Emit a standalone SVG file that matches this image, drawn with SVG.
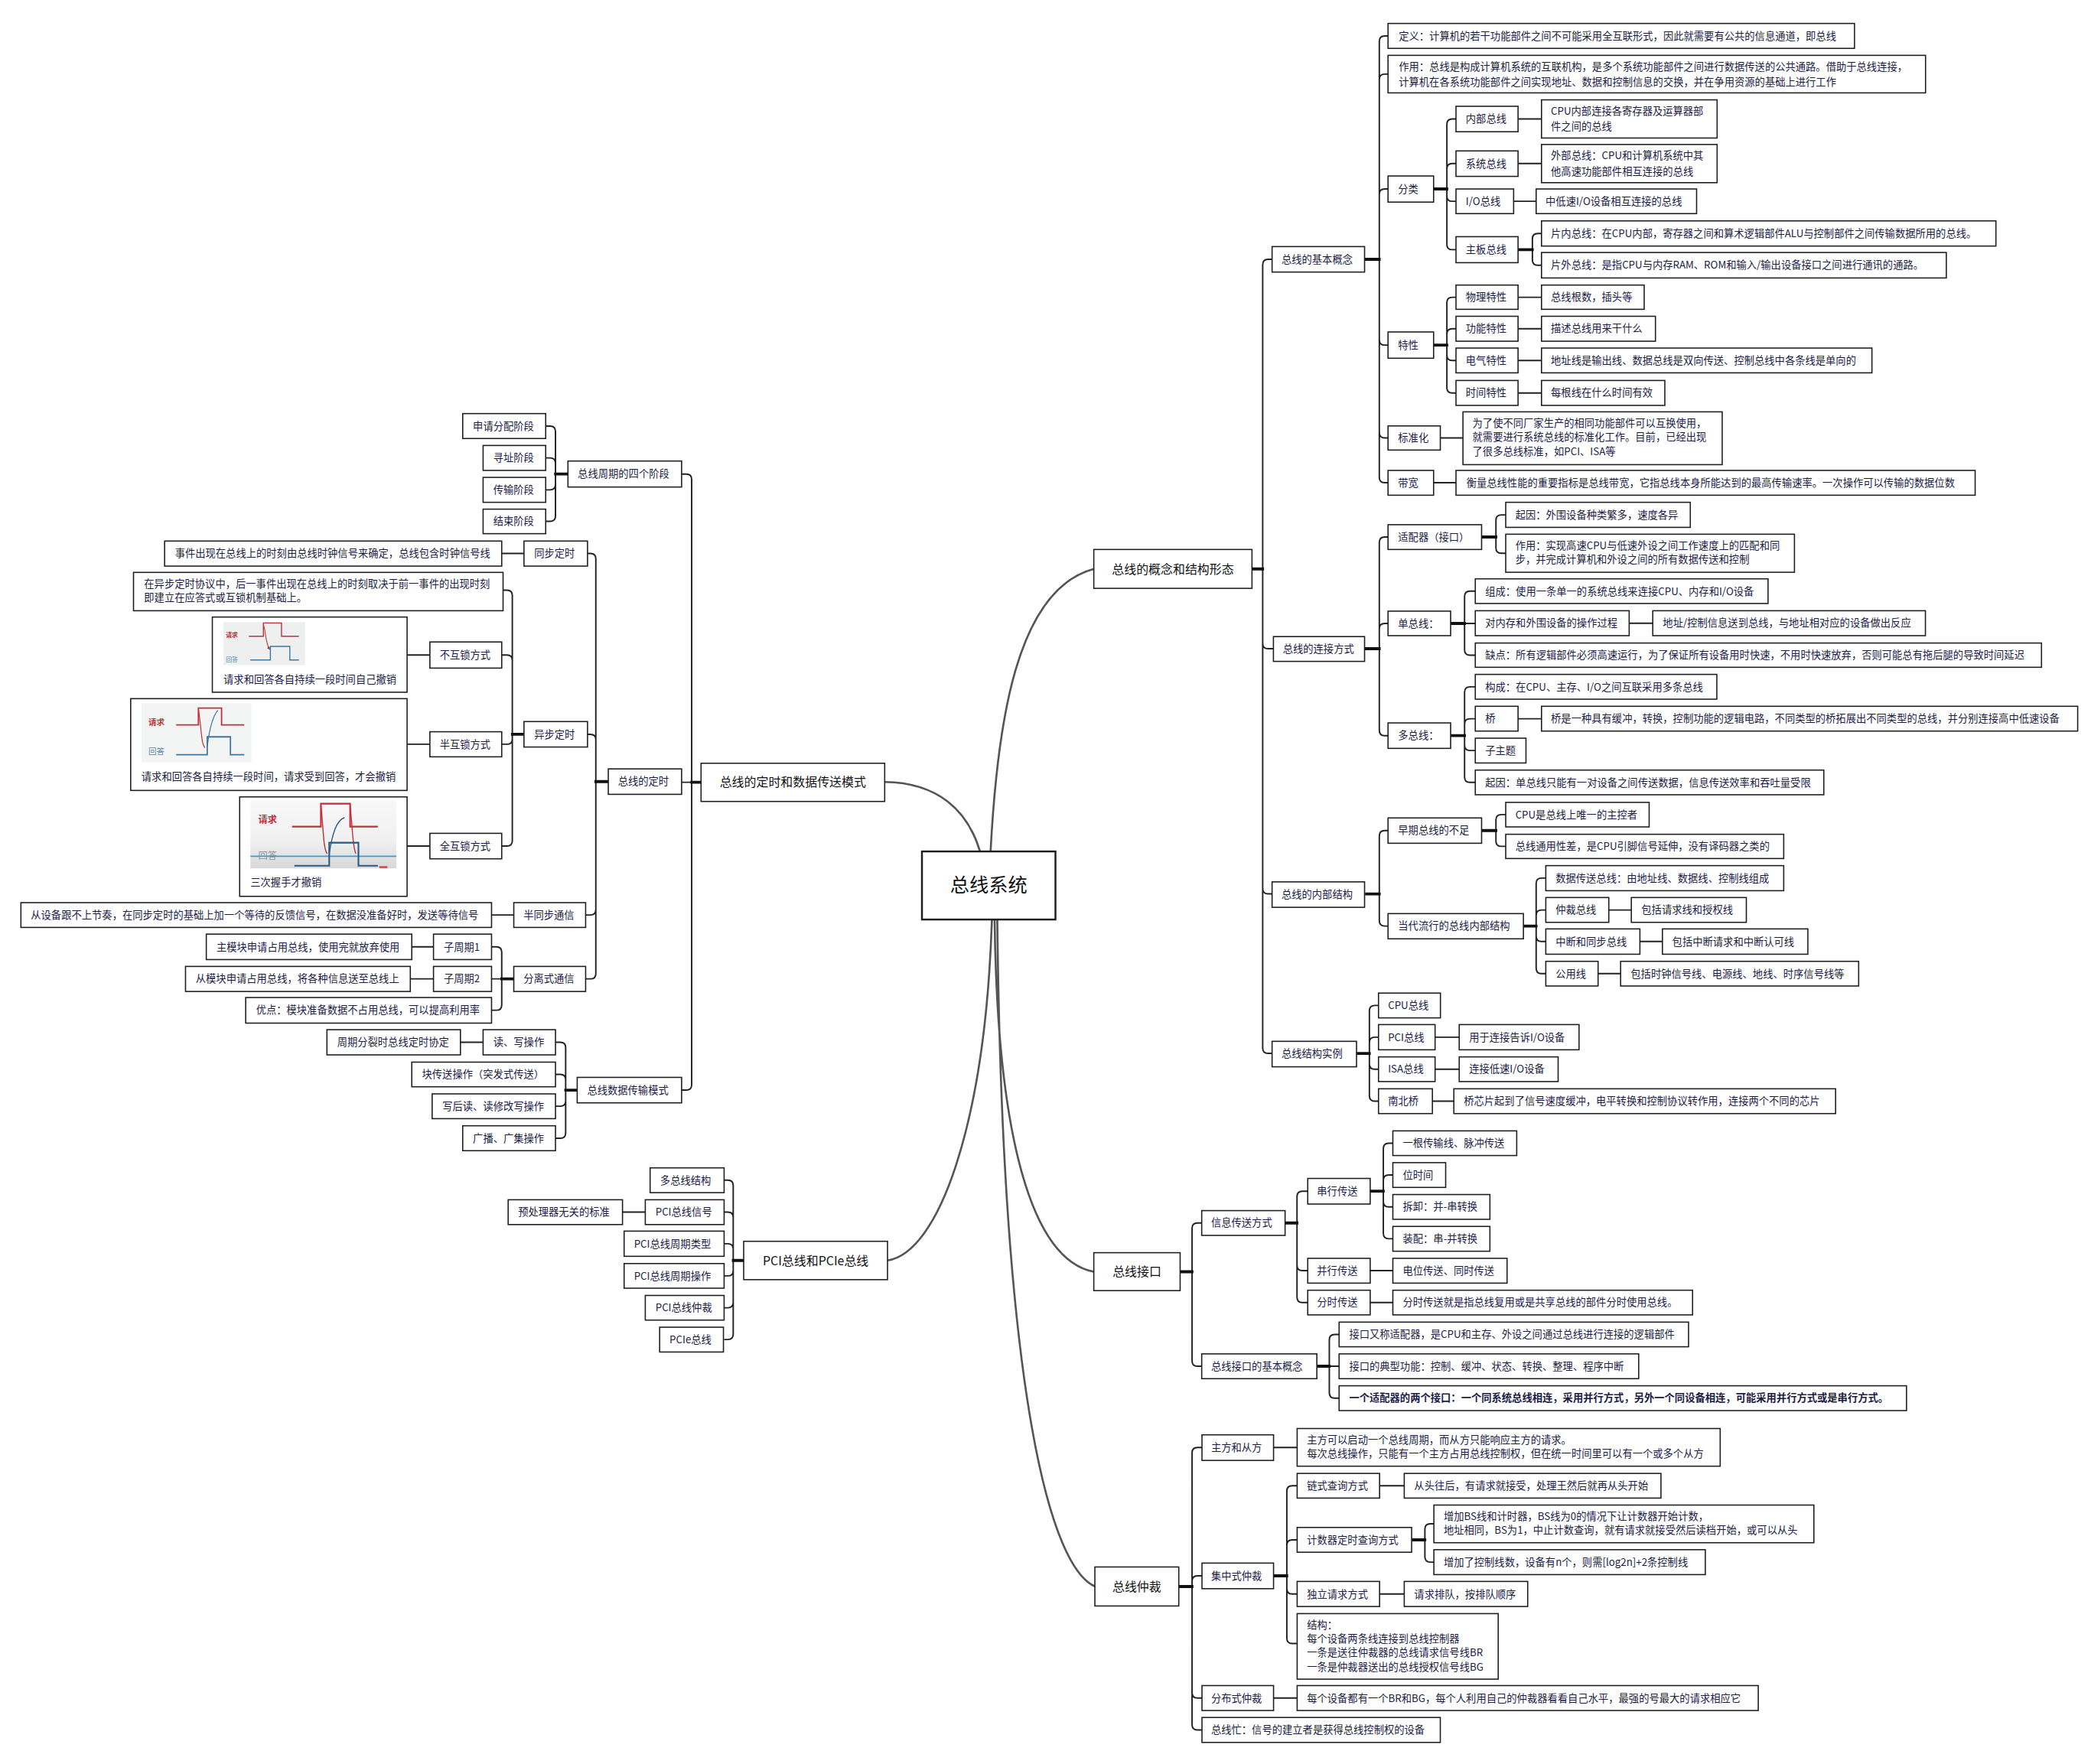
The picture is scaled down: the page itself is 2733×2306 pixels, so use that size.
<svg xmlns="http://www.w3.org/2000/svg" width="2733" height="2306" viewBox="0 0 2733 2306">
<defs>
<style>
.b{fill:#fff;stroke:#1e1e1e;stroke-width:.9}
.t{font-family:"Noto Sans CJK SC","Noto Sans",sans-serif;font-size:7.6px;fill:#1b1b46}
.tb{font-weight:bold}
.m{font-family:"Noto Sans CJK SC","Noto Sans",sans-serif;font-size:9.1px;fill:#111;text-anchor:middle}
.ctr{font-size:14.4px}
.c{fill:none;stroke:#222;stroke-width:1.1}
.k{fill:none;stroke:#111;stroke-width:2.2}
.s{fill:none;stroke:#555;stroke-width:1.5}
.rq{font-family:"Noto Sans CJK SC",sans-serif;fill:#c0303a;font-weight:bold}
.hd{font-family:"Noto Sans CJK SC",sans-serif;fill:#5a88ad}
.rl{fill:none;stroke:#c0303a}
.bl{fill:none;stroke:#3f76a0}
</style>
<linearGradient id="gbg" x1="0" y1="0" x2="0" y2="1"><stop offset="0" stop-color="#f8f8f8"/><stop offset="0.6" stop-color="#f0f0f0"/><stop offset="1" stop-color="#d8d8d8"/></linearGradient>
<marker id="ah" viewBox="0 0 6 6" refX="5" refY="3" markerWidth="4" markerHeight="4" orient="auto"><path d="M0,0L6,3L0,6z" fill="#c0303a"/></marker>
</defs>
<rect width="2733" height="2306" fill="#fff"/>
<g transform="scale(1.752)">
<g id="connectors">
<path class="s" d="M739,635 C744,540 758,440 816,424.5 M731,635 C722,605 700,584 660,583.5 M740,686 C735,840 700,935 662,940.5 M742,686 C744,850 770,940 816,948.9 M744,686 C748,1050 785,1170 817,1183.8"/>
<path class="c" d="M942,424.5V197.5Q942,193.5 946,193.5H949 M942,424.5V480Q942,484 946,484H950 M942,424.5V663Q942,667 946,667H949 M942,424.5V782Q942,786 946,786H949
M1029,193.5V30.8Q1029,26.8 1033,26.8H1035.5 M1029,193.5V59.3Q1029,55.3 1033,55.3H1035.5 M1029,193.5V145Q1029,141 1033,141H1035.5 M1029,193.5V253.5Q1029,257.5 1033,257.5H1035.5 M1029,193.5V322.8Q1029,326.8 1033,326.8H1035.5 M1029,193.5V356.2Q1029,360.2 1033,360.2H1035.5
M1079.4,141V92.8Q1079.4,88.8 1083.4,88.8H1086.2 M1079.4,141V126Q1079.4,122 1083.4,122H1086.2 M1079.4,141V146.2Q1079.4,150.2 1083.4,150.2H1086.2 M1079.4,141V182.3Q1079.4,186.3 1083.4,186.3H1086.2
M1132.5,88.8H1150 M1132.5,122H1150 M1129.3,150.2H1146
M1143.2,186.3V178.2Q1143.2,174.2 1147.2,174.2H1150 M1143.2,186.3V193.9Q1143.2,197.9 1147.2,197.9H1150
M1079.4,257.5V225.8Q1079.4,221.8 1083.4,221.8H1086.2 M1079.4,257.5V249.3Q1079.4,245.3 1083.4,245.3H1086.2 M1079.4,257.5V265Q1079.4,269 1083.4,269H1086.2 M1079.4,257.5V289.2Q1079.4,293.2 1083.4,293.2H1086.2
M1132.5,221.8H1150 M1132.5,245.3H1150 M1132.5,269H1150 M1132.5,293.2H1150 M1074.6,326.8H1091.4 M1069.4,360.2H1086.2
M1029,484V404.7Q1029,400.7 1033,400.7H1035.5 M1029,484V469.2Q1029,465.2 1033,465.2H1035.5 M1029,484V544.9Q1029,548.9 1033,548.9H1035.5
M1116,400.7V388.2Q1116,384.2 1120,384.2H1123.3 M1116,400.7V408.8Q1116,412.8 1120,412.8H1123.3
M1092.6,465.2V445.1Q1092.6,441.1 1096.6,441.1H1100.6 M1092.6,465.2H1100.6 M1092.6,465.2V484.9Q1092.6,488.9 1096.6,488.9H1100.6 M1215.4,465H1233
M1092.6,548.9V516.5Q1092.6,512.5 1096.6,512.5H1100.6 M1092.6,548.9V540.3Q1092.6,536.3 1096.6,536.3H1100.6 M1092.6,548.9V556Q1092.6,560 1096.6,560H1100.6 M1092.6,548.9V579.8Q1092.6,583.8 1096.6,583.8H1100.6 M1132.5,536.3H1150
M1029,667V623.7Q1029,619.7 1033,619.7H1035.5 M1029,667V687Q1029,691 1033,691H1035.5
M1116,619.7V611.8Q1116,607.8 1120,607.8H1123.3 M1116,619.7V627.5Q1116,631.5 1120,631.5H1123.3
M1146,691V659.2Q1146,655.2 1150,655.2H1153.2 M1146,691V683Q1146,679 1150,679H1153.2 M1146,691V698.5Q1146,702.5 1150,702.5H1153.2 M1146,691V722.5Q1146,726.5 1150,726.5H1153.2
M1200.3,679H1217 M1223.4,702.5H1240.2 M1192.3,726.5H1209
M1021.6,786V754.2Q1021.6,750.2 1025.6,750.2H1028.4 M1021.6,786V777.9Q1021.6,773.9 1025.6,773.9H1028.4 M1021.6,786V793.8Q1021.6,797.8 1025.6,797.8H1028.4 M1021.6,786V817.6Q1021.6,821.6 1025.6,821.6H1028.4
M1070.6,773.9H1088.6 M1070.6,797.8H1088.6 M1068.6,821.6H1084.6
M889.3,948.9V916.5Q889.3,912.5 893.3,912.5H896.5 M889.3,948.9V1015.4Q889.3,1019.4 893.3,1019.4H896.5
M967.6,912.5V892.8Q967.6,888.8 971.6,888.8H975.6 M967.6,912.5V944.1Q967.6,948.1 971.6,948.1H975.6 M967.6,912.5V967.9Q967.6,971.9 971.6,971.9H975.6
M1032,888.8V857Q1032,853 1036,853H1039.1 M1032,888.8V880.7Q1032,876.7 1036,876.7H1039.1 M1032,888.8V896.5Q1032,900.5 1036,900.5H1039.1 M1032,888.8V920.3Q1032,924.3 1036,924.3H1039.1
M1022.2,948.1H1039.1 M1022.2,971.9H1039.1
M991.7,1019.4V999.7Q991.7,995.7 995.7,995.7H999 M991.7,1019.4H999 M991.7,1019.4V1039.2Q991.7,1043.2 995.7,1043.2H999
M889.3,1183.8V1084.1Q889.3,1080.1 893.3,1080.1H896.7 M889.3,1183.8V1179.8Q889.3,1175.8 893.3,1175.8H896.7 M889.3,1183.8V1263Q889.3,1267 893.3,1267H896.7 M889.3,1183.8V1286.8Q889.3,1290.8 893.3,1290.8H896.7
M950.1,1080.1H967.7
M960,1175.8V1112.6Q960,1108.6 964,1108.6H967.7 M960,1175.8V1153Q960,1149 964,1149H967.7 M960,1175.8V1185.4Q960,1189.4 964,1189.4H967.7 M960,1175.8V1222.3Q960,1226.3 964,1226.3H967.7
M1029.2,1108.6H1047.6 M1029.2,1189.4H1047.6
M1063,1149V1141Q1063,1137 1067,1137H1069.7 M1063,1149V1161.6Q1063,1165.6 1067,1165.6H1069.7
M950.1,1267H967.7
M516,583.7V357.7Q516,353.7 512,353.7H508.5 M516,583.7H508.5 M516,583.7V809.4Q516,813.4 512,813.4H508.5
M414.4,353.7V321.9Q414.4,317.9 410.4,317.9H407.1 M414.4,353.7V345.7Q414.4,341.7 410.4,341.7H407.1 M414.4,353.7V361.5Q414.4,365.5 410.4,365.5H407.1 M414.4,353.7V385Q414.4,389 410.4,389H407.1
M444.5,583.2V417Q444.5,413 440.5,413H438.3 M444.5,583.2V551.9Q444.5,547.9 440.5,547.9H438.3 M444.5,583.2V678.7Q444.5,682.7 440.5,682.7H436.9 M444.5,583.2V726.4Q444.5,730.4 440.5,730.4H436.9
M390.9,413H374.3
M382.2,547.9V444.4Q382.2,440.4 378.2,440.4H375.3 M382.2,547.9V492.7Q382.2,488.7 378.2,488.7H374.3 M382.2,547.9V551.3Q382.2,555.3 378.2,555.3H374.3 M382.2,547.9V627.3Q382.2,631.3 378.2,631.3H374.3
M320.7,488.7H303.7 M320.7,555.3H303.7 M320.7,631.3H303.7
M383.3,682.7H366.7
M374.3,730.4V710.5Q374.3,706.5 370.3,706.5H366.7 M374.3,730.4H366.7 M374.3,730.4V749.8Q374.3,753.8 370.3,753.8H366.7
M323.4,706.5H307.2 M323.4,730.4H306.1
M422,813.4V781.7Q422,777.7 418,777.7H414.4 M422,813.4V805.7Q422,801.7 418,801.7H414.4 M422,813.4V821.4Q422,825.4 418,825.4H414.4 M422,813.4V845.3Q422,849.3 418,849.3H414.4
M360.4,777.7H343.5
M547,940.5V884.6Q547,880.6 543,880.6H540.2 M547,940.5V908.4Q547,904.4 543,904.4H540.2 M547,940.5V932Q547,928 543,928H540.2 M547,940.5V948Q547,952 543,952H540.2 M547,940.5V971.8Q547,975.8 543,975.8H540.2 M547,940.5V995.5Q547,999.5 543,999.5H540.2
M481.4,904.4H464.4"/>
<path class="k" d="M934,424.5H943 M1018,193.5H1030 M1069.4,141H1080.4 M1132.5,186.3H1144.2 M1069.4,257.5H1080.4 M1018,484H1030 M1105.3,400.7H1117 M1082.2,465.2H1093.6 M1082.2,548.9H1093.6 M1018.4,667H1030 M1105.3,619.7H1117 M1136.5,691H1147 M1011.6,786H1022.6 M880.4,948.9H890.3 M958.7,912.5H968.6 M1022.2,888.8H1033 M982.4,1019.4H992.7 M879.4,1183.8H890.3 M950.1,1175.8H961 M1053.1,1149H1064 M523,583.7H515 M423.7,353.7H413.4 M453.8,583.2H443.5 M390.9,547.9H381.2 M383.3,730.4H373.3 M430.6,813.4H421 M554.8,940.5H546"/>
</g>

<g id="root"><rect class="b" x="687.8" y="635.3" width="99.6" height="50.8" style="stroke-width:1.4"/><text class="m ctr" x="737.6" y="665.8">总线系统</text></g>

<g id="n-concept"><rect class="b" x="816" y="410" width="118" height="29"/><text class="m" x="875" y="427.8">总线的概念和结构形态</text></g>
<g id="n-timing"><rect class="b" x="523" y="569.5" width="137" height="28.5"/><text class="m" x="591.5" y="587">总线的定时和数据传送模式</text></g>
<g id="n-pci"><rect class="b" x="554.8" y="926.2" width="107.3" height="28.6"/><text class="m" x="608.5" y="943.8">PCI总线和PCIe总线</text></g>
<g id="n-iface"><rect class="b" x="816" y="934.7" width="64.4" height="28.3"/><text class="m" x="848.2" y="952.2">总线接口</text></g>
<g id="n-arb"><rect class="b" x="816.8" y="1169.2" width="62.6" height="29.1"/><text class="m" x="848.1" y="1187.1">总线仲裁</text></g>

<g id="n-basic"><rect class="b" x="949" y="184" width="69" height="19"/><text class="t" x="956" y="196.2">总线的基本概念</text></g>
<g id="n-conn"><rect class="b" x="950" y="475" width="68" height="18.5"/><text class="t" x="957" y="486.9">总线的连接方式</text></g>
<g id="n-inner"><rect class="b" x="949" y="658" width="69" height="19"/><text class="t" x="956" y="669.9">总线的内部结构</text></g>
<g id="n-example"><rect class="b" x="949" y="777" width="63" height="19"/><text class="t" x="956" y="788.9">总线结构实例</text></g>

<g id="n-def"><rect class="b" x="1035.5" y="17.5" width="348" height="18.6"/><text class="t" x="1043.5" y="29.5">定义：计算机的若干功能部件之间不可能采用全互联形式，因此就需要有公共的信息通道，即总线</text></g>
<g id="n-role"><rect class="b" x="1035.5" y="41.3" width="401" height="28"/><text class="t" x="1043.5" y="52.5">作用：总线是构成计算机系统的互联机构，是多个系统功能部件之间进行数据传送的公共通路。借助于总线连接，</text><text class="t" x="1043.5" y="63.8">计算机在各系统功能部件之间实现地址、数据和控制信息的交换，并在争用资源的基础上进行工作</text></g>
<g id="n-class"><rect class="b" x="1035.5" y="131.3" width="34" height="19.5"/><text class="t" x="1043" y="143.7">分类</text></g>
<g id="n-feat"><rect class="b" x="1035.5" y="247.7" width="34" height="19.6"/><text class="t" x="1043" y="260.2">特性</text></g>
<g id="n-std"><rect class="b" x="1035.5" y="317.8" width="39" height="18"/><text class="t" x="1043" y="329.5">标准化</text></g>
<g id="n-bw"><rect class="b" x="1035.5" y="351" width="34" height="18.5"/><text class="t" x="1043" y="362.9">带宽</text></g>

<g id="n-inbus"><rect class="b" x="1086.2" y="79.3" width="46.3" height="19"/><text class="t" x="1093.5" y="91.5">内部总线</text></g>
<g id="n-inbus-d"><rect class="b" x="1150" y="74.5" width="131" height="28.5"/><text class="t" x="1157" y="85.6">CPU内部连接各寄存器及运算器部</text><text class="t" x="1157" y="97">件之间的总线</text></g>
<g id="n-sysbus"><rect class="b" x="1086.2" y="112.6" width="46.3" height="19"/><text class="t" x="1093.5" y="124.8">系统总线</text></g>
<g id="n-sysbus-d"><rect class="b" x="1150" y="107.8" width="131" height="28.5"/><text class="t" x="1157" y="119">外部总线：CPU和计算机系统中其</text><text class="t" x="1157" y="130.5">他高速功能部件相互连接的总线</text></g>
<g id="n-iobus"><rect class="b" x="1086.2" y="141" width="43" height="18.4"/><text class="t" x="1093.5" y="152.9">I/O总线</text></g>
<g id="n-iobus-d"><rect class="b" x="1146" y="141" width="119.7" height="18.4"/><text class="t" x="1153" y="152.9">中低速I/O设备相互连接的总线</text></g>
<g id="n-board"><rect class="b" x="1086.2" y="176.6" width="46.3" height="19.4"/><text class="t" x="1093.5" y="189">主板总线</text></g>
<g id="n-onchip"><rect class="b" x="1150" y="164.8" width="339" height="18.8"/><text class="t" x="1157" y="176.9">片内总线：在CPU内部，寄存器之间和算术逻辑部件ALU与控制部件之间传输数据所用的总线。</text></g>
<g id="n-offchip"><rect class="b" x="1150" y="188.4" width="302" height="19"/><text class="t" x="1157" y="200.6">片外总线：是指CPU与内存RAM、ROM和输入/输出设备接口之间进行通讯的通路。</text></g>

<g id="n-phy"><rect class="b" x="1086.2" y="212.7" width="46.3" height="18.1"/><text class="t" x="1093.5" y="224.5">物理特性</text></g>
<g id="n-phy-d"><rect class="b" x="1150" y="212.7" width="76.6" height="18.1"/><text class="t" x="1157" y="224.5">总线根数，插头等</text></g>
<g id="n-fun"><rect class="b" x="1086.2" y="236" width="46.3" height="18.6"/><text class="t" x="1093.5" y="248">功能特性</text></g>
<g id="n-fun-d"><rect class="b" x="1150" y="236" width="85" height="18.6"/><text class="t" x="1157" y="248">描述总线用来干什么</text></g>
<g id="n-ele"><rect class="b" x="1086.2" y="259.7" width="46.3" height="18.5"/><text class="t" x="1093.5" y="271.7">电气特性</text></g>
<g id="n-ele-d"><rect class="b" x="1150" y="259.7" width="246.5" height="18.5"/><text class="t" x="1157" y="271.7">地址线是输出线、数据总线是双向传送、控制总线中各条线是单向的</text></g>
<g id="n-time"><rect class="b" x="1086.2" y="283.9" width="46.3" height="18.6"/><text class="t" x="1093.5" y="295.9">时间特性</text></g>
<g id="n-time-d"><rect class="b" x="1150" y="283.9" width="92" height="18.6"/><text class="t" x="1157" y="295.9">每根线在什么时间有效</text></g>
<g id="n-std-d"><rect class="b" x="1091.4" y="307.3" width="193.4" height="39.4"/><text class="t" x="1098.5" y="318.6">为了使不同厂家生产的相同功能部件可以互换使用，</text><text class="t" x="1098.5" y="329">就需要进行系统总线的标准化工作。目前，已经出现</text><text class="t" x="1098.5" y="339.4">了很多总线标准，如PCI、ISA等</text></g>
<g id="n-bw-d"><rect class="b" x="1086.2" y="351" width="387.3" height="18.5"/><text class="t" x="1094" y="362.9">衡量总线性能的重要指标是总线带宽，它指总线本身所能达到的最高传输速率。一次操作可以传输的数据位数</text></g>

<g id="n-adapter"><rect class="b" x="1035.5" y="391.5" width="69.8" height="18.5"/><text class="t" x="1043" y="403.4">适配器（接口）</text></g>
<g id="n-adapter-c"><rect class="b" x="1123.3" y="374.8" width="137.7" height="18.7"/><text class="t" x="1130.5" y="386.9">起因：外围设备种类繁多，速度各异</text></g>
<g id="n-adapter-r"><rect class="b" x="1123.3" y="398.6" width="215.4" height="28.4"/><text class="t" x="1130.5" y="409.9">作用：实现高速CPU与低速外设之间工作速度上的匹配和同</text><text class="t" x="1130.5" y="420.3">步，并完成计算机和外设之间的所有数据传送和控制</text></g>
<g id="n-single"><rect class="b" x="1035.5" y="456" width="46.7" height="18.3"/><text class="t" x="1043" y="467.9">单总线：</text></g>
<g id="n-single-1"><rect class="b" x="1100.6" y="431.9" width="218.4" height="18.4"/><text class="t" x="1108" y="443.8">组成：使用一条单一的系统总线来连接CPU、内存和I/O设备</text></g>
<g id="n-single-2"><rect class="b" x="1100.6" y="455.7" width="114.8" height="18.6"/><text class="t" x="1108" y="467.7">对内存和外围设备的操作过程</text></g>
<g id="n-single-2d"><rect class="b" x="1233" y="455.7" width="203.4" height="18.6"/><text class="t" x="1240.5" y="467.7">地址/控制信息送到总线，与地址相对应的设备做出反应</text></g>
<g id="n-single-3"><rect class="b" x="1100.6" y="479.8" width="422.4" height="18.1"/><text class="t" x="1108" y="491.6">缺点：所有逻辑部件必须高速运行，为了保证所有设备用时快速，不用时快速放弃，否则可能总有拖后腿的导致时间延迟</text></g>
<g id="n-multi"><rect class="b" x="1035.5" y="539.4" width="46.7" height="19"/><text class="t" x="1043" y="551.6">多总线：</text></g>
<g id="n-multi-1"><rect class="b" x="1100.6" y="503.2" width="180.2" height="18.5"/><text class="t" x="1108" y="515.2">构成：在CPU、主存、I/O之间互联采用多条总线</text></g>
<g id="n-bridge"><rect class="b" x="1100.6" y="527" width="31.9" height="18.5"/><text class="t" x="1108" y="539">桥</text></g>
<g id="n-bridge-d"><rect class="b" x="1150" y="527" width="400" height="18.5"/><text class="t" x="1157" y="539">桥是一种具有缓冲，转换，控制功能的逻辑电路，不同类型的桥拓展出不同类型的总线，并分别连接高中低速设备</text></g>
<g id="n-sub"><rect class="b" x="1100.6" y="550.8" width="37.8" height="18.5"/><text class="t" x="1108" y="562.8">子主题</text></g>
<g id="n-multi-4"><rect class="b" x="1100.6" y="574.6" width="260" height="18.4"/><text class="t" x="1108" y="586.5">起因：单总线只能有一对设备之间传送数据，信息传送效率和吞吐量受限</text></g>

<g id="n-early"><rect class="b" x="1035.5" y="610.3" width="69.8" height="18.9"/><text class="t" x="1043" y="622.4">早期总线的不足</text></g>
<g id="n-early-1"><rect class="b" x="1123.3" y="598.7" width="107" height="18.3"/><text class="t" x="1130.5" y="610.5">CPU是总线上唯一的主控者</text></g>
<g id="n-early-2"><rect class="b" x="1123.3" y="622.5" width="207.4" height="18.1"/><text class="t" x="1130.5" y="634.2">总线通用性差，是CPU引脚信号延伸，没有译码器之类的</text></g>
<g id="n-modern"><rect class="b" x="1035.5" y="681.7" width="101" height="18.8"/><text class="t" x="1043" y="693.7">当代流行的总线内部结构</text></g>
<g id="n-databus"><rect class="b" x="1153.2" y="645.9" width="177.5" height="18.7"/><text class="t" x="1160.5" y="657.9">数据传送总线：由地址线、数据线、控制线组成</text></g>
<g id="n-arbbus"><rect class="b" x="1153.2" y="669.7" width="47" height="18.5"/><text class="t" x="1160.5" y="681.7">仲裁总线</text></g>
<g id="n-arbbus-d"><rect class="b" x="1217" y="669.7" width="85.8" height="18.5"/><text class="t" x="1224.5" y="681.7">包括请求线和授权线</text></g>
<g id="n-intbus"><rect class="b" x="1153.2" y="693.1" width="70.2" height="18.9"/><text class="t" x="1160.5" y="705.2">中断和同步总线</text></g>
<g id="n-intbus-d"><rect class="b" x="1240.2" y="693.1" width="108.5" height="18.9"/><text class="t" x="1247.5" y="705.2">包括中断请求和中断认可线</text></g>
<g id="n-common"><rect class="b" x="1153.2" y="717.3" width="39" height="18.4"/><text class="t" x="1160.5" y="729.2">公用线</text></g>
<g id="n-common-d"><rect class="b" x="1209" y="717.3" width="177.6" height="18.4"/><text class="t" x="1216.5" y="729.2">包括时钟信号线、电源线、地线、时序信号线等</text></g>

<g id="n-cpubus"><rect class="b" x="1028.4" y="741" width="46.2" height="18.5"/><text class="t" x="1035.5" y="752.9">CPU总线</text></g>
<g id="n-pcibus"><rect class="b" x="1028.4" y="764.5" width="42.2" height="18.8"/><text class="t" x="1035.5" y="776.6">PCI总线</text></g>
<g id="n-pcibus-d"><rect class="b" x="1088.6" y="764.5" width="89.4" height="18.8"/><text class="t" x="1096" y="776.6">用于连接告诉I/O设备</text></g>
<g id="n-isabus"><rect class="b" x="1028.4" y="788.6" width="42.2" height="18.4"/><text class="t" x="1035.5" y="800.5">ISA总线</text></g>
<g id="n-isabus-d"><rect class="b" x="1088.6" y="788.6" width="73.8" height="18.4"/><text class="t" x="1096" y="800.5">连接低速I/O设备</text></g>
<g id="n-nsb"><rect class="b" x="1028.4" y="812.4" width="40.2" height="18.5"/><text class="t" x="1035.5" y="824.3">南北桥</text></g>
<g id="n-nsb-d"><rect class="b" x="1084.6" y="812.4" width="284.8" height="18.5"/><text class="t" x="1092" y="824.3">桥芯片起到了信号速度缓冲，电平转换和控制协议转作用，连接两个不同的芯片</text></g>

<g id="n-trans"><rect class="b" x="896.5" y="903.3" width="62.2" height="18.5"/><text class="t" x="903.5" y="915.2">信息传送方式</text></g>
<g id="n-serial"><rect class="b" x="975.6" y="879.3" width="46.6" height="19.1"/><text class="t" x="982.5" y="891.5">串行传送</text></g>
<g id="n-serial-1"><rect class="b" x="1039.1" y="843.8" width="92.4" height="18.4"/><text class="t" x="1046.5" y="855.7">一根传输线、脉冲传送</text></g>
<g id="n-serial-2"><rect class="b" x="1039.1" y="867.5" width="39.4" height="18.5"/><text class="t" x="1046.5" y="879.4">位时间</text></g>
<g id="n-serial-3"><rect class="b" x="1039.1" y="891.3" width="72.4" height="18.5"/><text class="t" x="1046.5" y="903.2">拆卸：并-串转换</text></g>
<g id="n-serial-4"><rect class="b" x="1039.1" y="915.1" width="72.4" height="18.5"/><text class="t" x="1046.5" y="927">装配：串-并转换</text></g>
<g id="n-parallel"><rect class="b" x="975.6" y="938.9" width="46.6" height="18.5"/><text class="t" x="982.5" y="950.8">并行传送</text></g>
<g id="n-parallel-d"><rect class="b" x="1039.1" y="938.9" width="85.2" height="18.5"/><text class="t" x="1046.5" y="950.8">电位传送、同时传送</text></g>
<g id="n-tdm"><rect class="b" x="975.6" y="962.7" width="46.6" height="18.4"/><text class="t" x="982.5" y="974.6">分时传送</text></g>
<g id="n-tdm-d"><rect class="b" x="1039.1" y="962.7" width="223.6" height="18.4"/><text class="t" x="1046.5" y="974.6">分时传送就是指总线复用或是共享总线的部件分时使用总线。</text></g>
<g id="n-ifbasic"><rect class="b" x="896.5" y="1010.2" width="85.9" height="18.5"/><text class="t" x="903.5" y="1022.1">总线接口的基本概念</text></g>
<g id="n-ifbasic-1"><rect class="b" x="999" y="986.5" width="260.7" height="18.4"/><text class="t" x="1006.5" y="998.4">接口又称适配器，是CPU和主存、外设之间通过总线进行连接的逻辑部件</text></g>
<g id="n-ifbasic-2"><rect class="b" x="999" y="1010.2" width="223.5" height="18.5"/><text class="t" x="1006.5" y="1022.1">接口的典型功能：控制、缓冲、状态、转换、整理、程序中断</text></g>
<g id="n-ifbasic-3"><rect class="b" x="999" y="1034" width="423.3" height="18.5"/><text class="t tb" x="1006.5" y="1045.9">一个适配器的两个接口：一个同系统总线相连，采用并行方式，另外一个同设备相连，可能采用并行方式或是串行方式。</text></g>

<g id="n-master"><rect class="b" x="896.7" y="1070.6" width="53.4" height="19.1"/><text class="t" x="903.5" y="1082.8">主方和从方</text></g>
<g id="n-master-d"><rect class="b" x="967.7" y="1065.9" width="315.6" height="28.1"/><text class="t" x="975" y="1076.9">主方可以启动一个总线周期，而从方只能响应主方的请求。</text><text class="t" x="975" y="1087.3">每次总线操作，只能有一个主方占用总线控制权，但在统一时间里可以有一个或多个从方</text></g>
<g id="n-central"><rect class="b" x="896.7" y="1166.3" width="53.4" height="19.1"/><text class="t" x="903.5" y="1178.5">集中式仲裁</text></g>
<g id="n-chain"><rect class="b" x="967.7" y="1099.4" width="61.5" height="18.4"/><text class="t" x="975" y="1111.3">链式查询方式</text></g>
<g id="n-chain-d"><rect class="b" x="1047.6" y="1099.4" width="191.5" height="18.4"/><text class="t" x="1055" y="1111.3">从头往后，有请求就接受，处理王然后就再从头开始</text></g>
<g id="n-counter"><rect class="b" x="967.7" y="1139.7" width="85.4" height="18.5"/><text class="t" x="975" y="1151.7">计数器定时查询方式</text></g>
<g id="n-counter-1"><rect class="b" x="1069.7" y="1123" width="283.5" height="28.1"/><text class="t" x="1077" y="1134">增加BS线和计时器，BS线为0的情况下让计数器开始计数，</text><text class="t" x="1077" y="1144.4">地址相同，BS为1，中止计数查询，就有请求就接受然后读档开始，或可以从头</text></g>
<g id="n-counter-2"><rect class="b" x="1069.7" y="1156.3" width="202.5" height="18.6"/><text class="t" x="1077" y="1168.3">增加了控制线数，设备有n个，则需[log2n]+2条控制线</text></g>
<g id="n-indep"><rect class="b" x="967.7" y="1180" width="61.5" height="18.7"/><text class="t" x="975" y="1192.1">独立请求方式</text></g>
<g id="n-indep-d"><rect class="b" x="1047.6" y="1180" width="92.1" height="18.7"/><text class="t" x="1055" y="1192.1">请求排队，按排队顺序</text></g>
<g id="n-struct"><rect class="b" x="967.7" y="1204" width="150" height="48.9"/><text class="t" x="975" y="1215.2">结构：</text><text class="t" x="975" y="1225.6">每个设备两条线连接到总线控制器</text><text class="t" x="975" y="1236">一条是送往仲裁器的总线请求信号线BR</text><text class="t" x="975" y="1246.4">一条是仲裁器送出的总线授权信号线BG</text></g>
<g id="n-dist"><rect class="b" x="896.7" y="1257.7" width="53.4" height="18.6"/><text class="t" x="903.5" y="1269.7">分布式仲裁</text></g>
<g id="n-dist-d"><rect class="b" x="967.7" y="1257.7" width="344" height="18.6"/><text class="t" x="975" y="1269.7">每个设备都有一个BR和BG，每个人利用自己的仲裁器看看自己水平，最强的号最大的请求相应它</text></g>
<g id="n-busy"><rect class="b" x="896.7" y="1281.5" width="177.8" height="18.6"/><text class="t" x="903.5" y="1293.5">总线忙：信号的建立者是获得总线控制权的设备</text></g>

<g id="n-four"><rect class="b" x="423.7" y="344" width="84.8" height="19.4"/><text class="t" x="431" y="356.4">总线周期的四个阶段</text></g>
<g id="n-four-1"><rect class="b" x="345.2" y="308.6" width="61.9" height="18.6"/><text class="t" x="352.8" y="320.6">申请分配阶段</text></g>
<g id="n-four-2"><rect class="b" x="360.4" y="332.4" width="46.7" height="18.6"/><text class="t" x="368" y="344.4">寻址阶段</text></g>
<g id="n-four-3"><rect class="b" x="360.4" y="356.2" width="46.7" height="18.6"/><text class="t" x="368" y="368.2">传输阶段</text></g>
<g id="n-four-4"><rect class="b" x="360.4" y="379.9" width="46.7" height="18.3"/><text class="t" x="368" y="391.7">结束阶段</text></g>
<g id="n-bustiming"><rect class="b" x="453.8" y="573.7" width="54.7" height="19"/><text class="t" x="461" y="585.9">总线的定时</text></g>
<g id="n-sync"><rect class="b" x="390.9" y="403.7" width="47.4" height="18.7"/><text class="t" x="398.5" y="415.7">同步定时</text></g>
<g id="n-sync-d"><rect class="b" x="122.8" y="403.7" width="251.5" height="18.7"/><text class="t" x="130.5" y="415.7">事件出现在总线上的时刻由总线时钟信号来确定，总线包含时钟信号线</text></g>
<g id="n-async"><rect class="b" x="390.9" y="538.4" width="47.4" height="19"/><text class="t" x="398.5" y="550.6">异步定时</text></g>
<g id="n-async-d"><rect class="b" x="99.6" y="427.1" width="275.7" height="28.6"/><text class="t" x="107.5" y="438.2">在异步定时协议中，后一事件出现在总线上的时刻取决于前一事件的出现时刻</text><text class="t" x="107.5" y="448.6">即建立在应答式或互锁机制基础上。</text></g>
<g id="n-nolock"><rect class="b" x="320.7" y="479" width="53.6" height="19.5"/><text class="t" x="328" y="491.4">不互锁方式</text></g>
<g id="n-nolock-d"><rect class="b" x="158.4" y="460.4" width="145.3" height="56.1"/>
<rect x="166.7" y="464.2" width="60.9" height="32" fill="#eef0f0"/>
<text class="rq" x="168.5" y="475.5" font-size="4.5">请求</text>
<polyline class="rl" stroke-width="0.8" points="185.7,474.7 196.5,474.7 196.5,464.8 210,464.8 210,474.7 223,474.7"/>
<path class="rl" stroke-width="0.6" d="M196.5,466 C198.5,472 198,480 201.2,484.5" marker-end="url(#ah)"/>
<text class="hd" x="168.5" y="494" font-size="4.5">回答</text>
<polyline class="bl" stroke-width="0.8" points="186.8,492.4 201.7,492.4 201.7,482.3 216.2,482.3 216.2,492.4 223,492.4"/>
<text class="t" x="166.7" y="509.5">请求和回答各自持续一段时间自己撤销</text></g>
<g id="n-halflock"><rect class="b" x="320.7" y="546" width="53.6" height="18.7"/><text class="t" x="328" y="558">半互锁方式</text></g>
<g id="n-halflock-d"><rect class="b" x="97.5" y="521.3" width="206.2" height="68.5"/>
<rect x="105.5" y="524.7" width="82" height="44.2" fill="#f3f4f4"/>
<text class="rq" x="110.7" y="541" font-size="6">请求</text>
<polyline class="rl" stroke-width="1" points="131.4,540.9 148,540.9 148,528.3 165.3,528.3 165.3,540.9 182.3,540.9"/>
<path class="rl" stroke-width="0.7" d="M148,529 C150.5,545 150,555 153,558"/>
<path class="bl" stroke-width="0.7" d="M154.6,557 C156,546 158,535 162.5,530"/>
<text class="hd" x="110.7" y="562.5" font-size="6">回答</text>
<polyline class="bl" stroke-width="1" points="131.4,563.2 154.6,563.2 154.6,549.8 171.9,549.8 171.9,563.2 182.3,563.2"/>
<text class="t" x="105.5" y="582">请求和回答各自持续一段时间，请求受到回答，才会撤销</text></g>
<g id="n-fulllock"><rect class="b" x="320.7" y="621.8" width="53.6" height="19"/><text class="t" x="328" y="634">全互锁方式</text></g>
<g id="n-fulllock-d"><rect class="b" x="178.8" y="594.6" width="124.9" height="74.2"/>
<rect x="186.8" y="597.4" width="108.9" height="50.5" fill="url(#gbg)"/>
<text class="rq" x="192.7" y="614" font-size="7">请求</text>
<polyline class="rl" stroke-width="1.2" points="217.9,616.8 239.4,616.8 239.4,599.7 261.2,599.7 261.2,616.8 281.9,616.8"/>
<path class="rl" stroke-width="0.8" d="M239.4,601 C241.5,620 241,632 244,637 M261.2,601 C263.2,620 263,632 265.5,637"/>
<line x1="186.8" y1="638.9" x2="295.7" y2="638.9" stroke="#29a3e0" stroke-width="1"/>
<text x="192.7" y="641" font-size="7" fill="#8a96a2" font-family="Noto Sans CJK SC,sans-serif">回答</text>
<polyline fill="none" stroke="#2a5a80" stroke-width="1.2" points="219.6,646 245.6,646 245.6,628.8 267.4,628.8 267.4,646 281.9,646"/>
<path fill="none" stroke="#2a5a80" stroke-width="0.8" d="M245.6,637 C248,622 251,612 257,610"/>
<rect x="283" y="646.3" width="6" height="1.4" fill="#e04040"/>
<text class="t" x="186.8" y="661">三次握手才撤销</text></g>
<g id="n-semisync"><rect class="b" x="383.3" y="673.5" width="53.6" height="18.5"/><text class="t" x="390.5" y="685.4">半同步通信</text></g>
<g id="n-semisync-d"><rect class="b" x="15.6" y="673.5" width="351.1" height="18.5"/><text class="t" x="23" y="685.4">从设备跟不上节奏，在同步定时的基础上加一个等待的反馈信号，在数据没准备好时，发送等待信号</text></g>
<g id="n-split"><rect class="b" x="383.3" y="721.1" width="53.6" height="18.7"/><text class="t" x="390.5" y="733.1">分离式通信</text></g>
<g id="n-sub1"><rect class="b" x="323.4" y="697" width="43.3" height="19"/><text class="t" x="331" y="709.2">子周期1</text></g>
<g id="n-sub1-d"><rect class="b" x="153.9" y="697" width="153.3" height="19"/><text class="t" x="161.5" y="709.2">主模块申请占用总线，使用完就放弃使用</text></g>
<g id="n-sub2"><rect class="b" x="323.4" y="721.1" width="43.3" height="18.7"/><text class="t" x="331" y="733.1">子周期2</text></g>
<g id="n-sub2-d"><rect class="b" x="138.4" y="721.1" width="167.7" height="18.7"/><text class="t" x="146" y="733.1">从模块申请占用总线，将各种信息送至总线上</text></g>
<g id="n-split-adv"><rect class="b" x="183.3" y="744.3" width="183.4" height="19.1"/><text class="t" x="191" y="756.5">优点：模块准备数据不占用总线，可以提高利用率</text></g>
<g id="n-mode"><rect class="b" x="430.6" y="803.9" width="77.9" height="19"/><text class="t" x="438" y="816.1">总线数据传输模式</text></g>
<g id="n-rw"><rect class="b" x="360.4" y="768.3" width="54" height="18.8"/><text class="t" x="368" y="780.4">读、写操作</text></g>
<g id="n-rw-d"><rect class="b" x="243.9" y="768.3" width="99.6" height="18.8"/><text class="t" x="251.5" y="780.4">周期分裂时总线定时协定</text></g>
<g id="n-burst"><rect class="b" x="307.2" y="792.5" width="107.2" height="18.4"/><text class="t" x="314.8" y="804.4">块传送操作（突发式传送）</text></g>
<g id="n-rmw"><rect class="b" x="322.4" y="816.2" width="92" height="18.5"/><text class="t" x="330" y="828.1">写后读、读修改写操作</text></g>
<g id="n-bcast"><rect class="b" x="345.2" y="840" width="69.2" height="18.6"/><text class="t" x="352.8" y="852">广播、广集操作</text></g>

<g id="n-pci-1"><rect class="b" x="485" y="871.4" width="55.2" height="18.5"/><text class="t" x="492.5" y="883.3">多总线结构</text></g>
<g id="n-pci-2"><rect class="b" x="481.4" y="895.2" width="58.8" height="18.5"/><text class="t" x="489" y="907.1">PCI总线信号</text></g>
<g id="n-pci-2d"><rect class="b" x="379.1" y="895.2" width="85.3" height="18.5"/><text class="t" x="386.5" y="907.1">预处理器无关的标准</text></g>
<g id="n-pci-3"><rect class="b" x="465.6" y="918.6" width="74.6" height="18.8"/><text class="t" x="473" y="930.7">PCI总线周期类型</text></g>
<g id="n-pci-4"><rect class="b" x="465.6" y="942.8" width="74.6" height="18.4"/><text class="t" x="473" y="954.7">PCI总线周期操作</text></g>
<g id="n-pci-5"><rect class="b" x="481.4" y="966.6" width="58.8" height="18.4"/><text class="t" x="489" y="978.5">PCI总线仲裁</text></g>
<g id="n-pci-6"><rect class="b" x="492.1" y="990.3" width="47.6" height="18.5"/><text class="t" x="499.5" y="1002.2">PCIe总线</text></g>
</g>
</svg>
